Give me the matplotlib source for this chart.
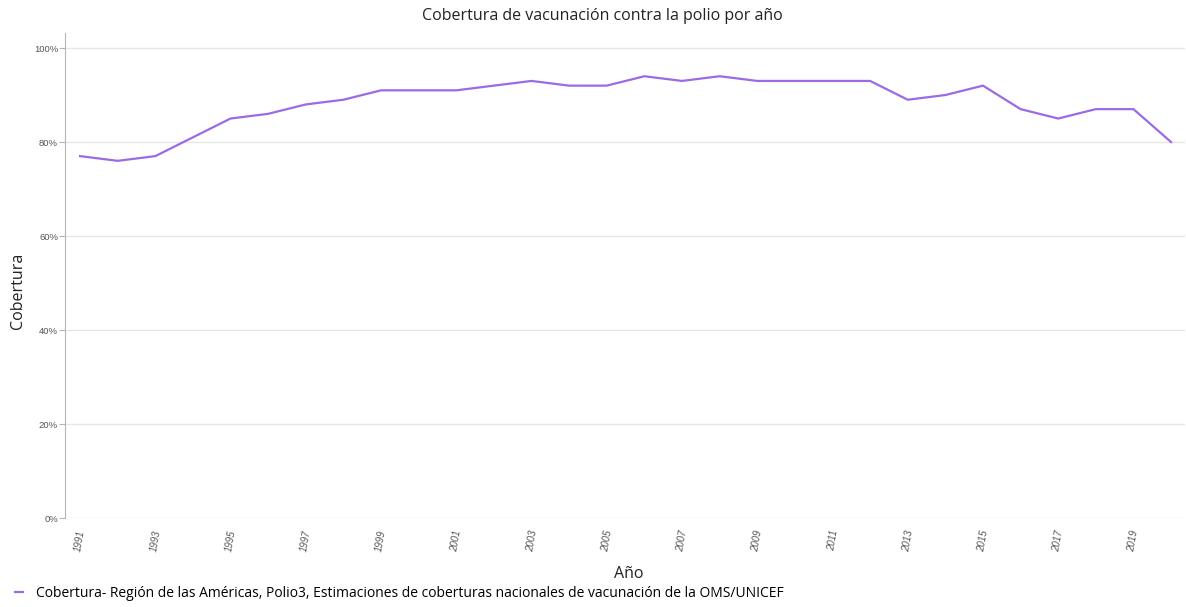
import numpy as np
import matplotlib.pyplot as plt
from matplotlib.ticker import FuncFormatter

#%% data
years = list(range(1991, 2021))
cobertura = [77, 76, 77, 81, 85, 86, 88, 89, 91, 91,
             91, 92, 93, 92, 92, 94, 93, 94, 93, 93,
             93, 93, 89, 90, 92, 87, 85, 87, 87, 80]
xticks = list(range(1991, 2021, 2))
yticks = [0, 20, 40, 60, 80, 100]
serie = "Cobertura- Región de las Américas, Polio3, Estimaciones de coberturas nacionales de vacunación de la OMS/UNICEF"

#%% plot
plt.rcParams['font.family'] = ['Open Sans', 'DejaVu Sans']
fig = plt.figure(figsize=(11.86, 6.07), dpi=100)
ax = fig.add_axes([65/1186, 1 - 518/607, 1120/1186, 485/607])

ax.plot(years, cobertura, color='#9b6be6', linewidth=1.6, label=serie)

ax.set_xlim(1990.6, 2020.37)
ax.set_ylim(0, 103.2)
ax.set_yticks(yticks)
ax.yaxis.set_major_formatter(FuncFormatter(lambda v, p: f"{v:.0f}%"))
ax.set_xticks(xticks)
ax.set_xticklabels([str(y) for y in xticks], rotation=80, fontsize=7,
                   color='#555555', family='Liberation Sans', style='italic')
for lab in ax.get_yticklabels():
    lab.set_fontsize(6.8)
    lab.set_color('#555555')
    lab.set_family('Liberation Sans')

ax.grid(axis='y', color='#e6e6e6', linewidth=1)
ax.set_axisbelow(True)
for s in ['top', 'right', 'bottom']:
    ax.spines[s].set_visible(False)
ax.spines['left'].set_color('#b5b5b5')
ax.tick_params(axis='y', length=4, color='#b5b5b5', pad=1)
ax.tick_params(axis='x', length=0, pad=8)

fig.text(0.508, 0.973, "Cobertura de vacunación contra la polio por año",
         ha='center', va='center', fontsize=11.5, color='#222222')
fig.text(0.015, 0.52, "Cobertura", rotation=90, ha='center', va='center',
         fontsize=11.5, color='#222222')
fig.text(0.53, 0.055, "Año", ha='center', va='center', fontsize=11.5, color='#222222')

fig.legend(loc='lower left', bbox_to_anchor=(0.002, -0.01), frameon=False,
           handlelength=0.6, handletextpad=0.9, fontsize=10)

fig.savefig('out.png', dpi=100)
